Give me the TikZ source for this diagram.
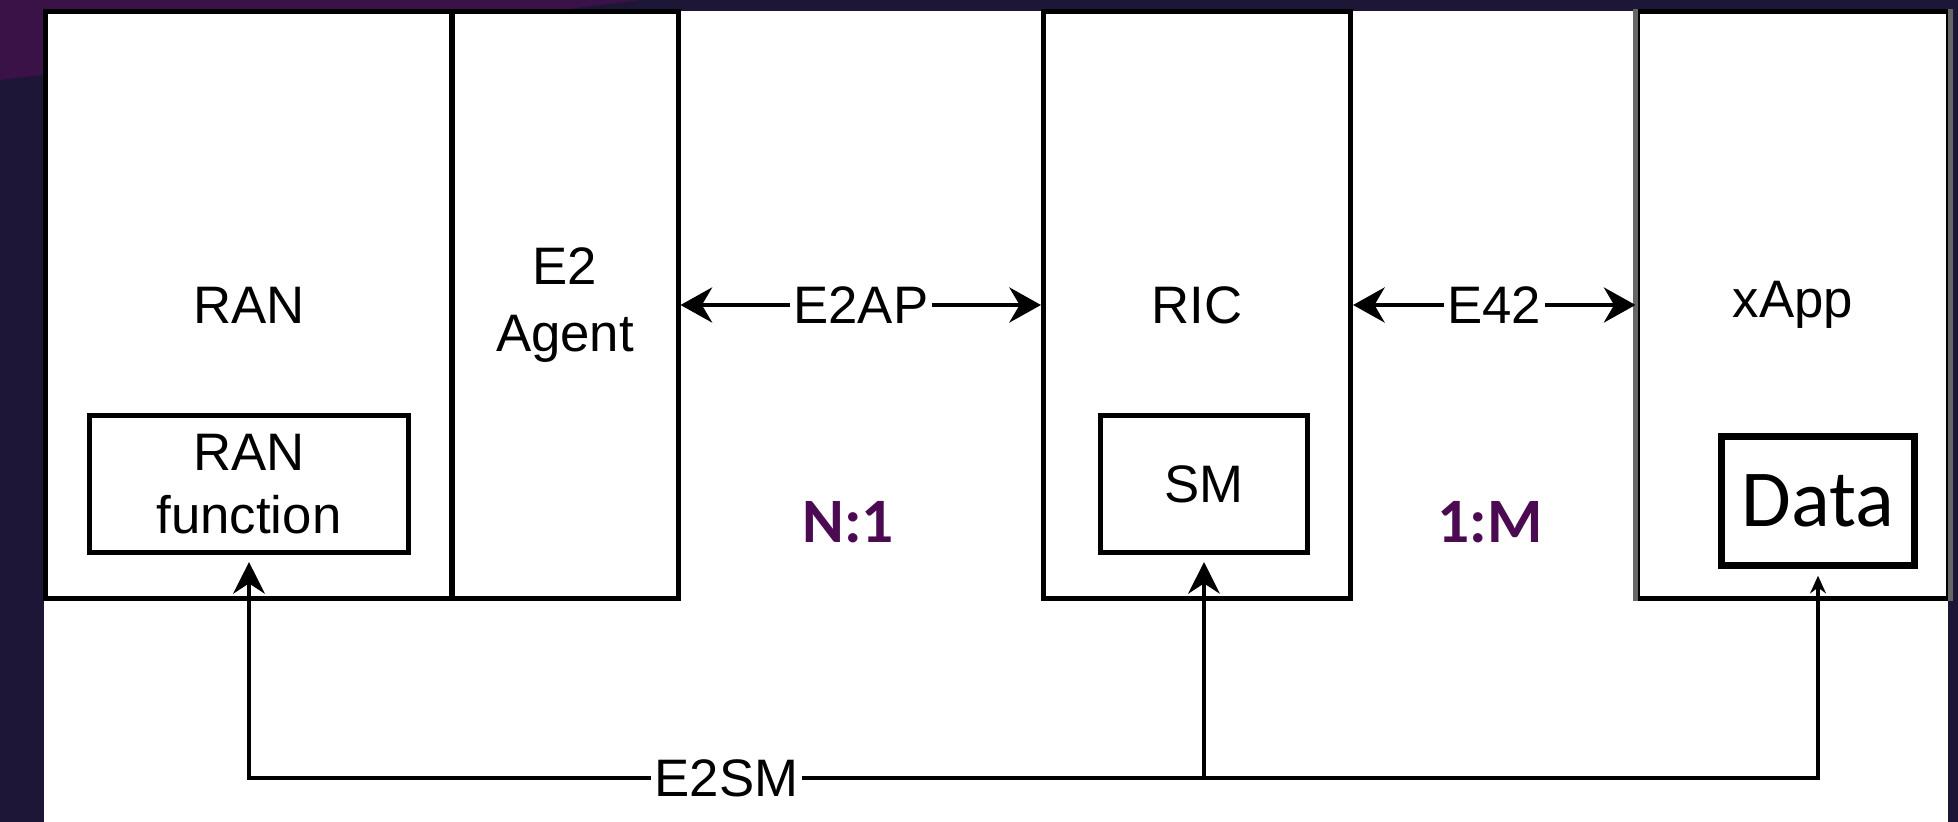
\documentclass[tikz,border=0pt]{standalone}
\usepackage{fontspec}
\setmainfont{Liberation Sans}
\newfontfamily\calfont{Carlito}
\usetikzlibrary{arrows.meta,positioning}

\definecolor{bgnavy}{RGB}{30,22,54}
\definecolor{bgpurple}{RGB}{58,18,72}
\definecolor{ratiopurple}{RGB}{75,10,82}

\begin{document}
\begin{tikzpicture}
[
	x=0.01cm, y=-0.01cm,
	unit/.style={draw,line width=1.4pt,minimum height=5.86cm,align=center,font=\fontsize{15}{19}\selectfont},
	part/.style={draw,line width=1.4pt,minimum height=1.37cm,align=center,font=\fontsize{15}{18}\selectfont},
	link/.style={line width=1pt,{Stealth[length=9pt,width=10pt]}-{Stealth[length=9pt,width=10pt]}},
	feed/.style={line width=1pt,-{Stealth[length=9pt,width=9pt]},shorten >=2pt},
	feedsmall/.style={line width=1pt,-{Stealth[length=5pt,width=4.5pt]},shorten >=2pt},
	lbl/.style={fill=white,inner sep=1pt,font=\fontsize{15}{18}\selectfont},
	ratiotext/.style={ratiopurple,font=\calfont\bfseries\fontsize{18}{20}\selectfont}
]
	\useasboundingbox (0,0) rectangle (1958,822);

	% background
	\fill[bgnavy] (0,0) rectangle (1958,822);
	\fill[bgpurple] (0,0) -- (640,0) -- (0,80) -- cycle;
	\fill[white] (44,11) rectangle (1948,822);

	% blocks
	\node[unit,minimum width=4.06cm] (ran) at (249,305) {RAN};
	\node[unit,minimum width=2.26cm] (agent) at (565,305) {E2\\Agent};
	\node[unit,minimum width=3.07cm] (ric) at (1197,305) {RIC};
	\node[unit,minimum width=3.10cm] (xapp) at (1793,305) {xApp};
	\draw[black!60,line width=1.4pt] (xapp.north west) -- (xapp.south west);
	\draw[black!60,line width=1.4pt] (xapp.north east) -- (xapp.south east);

	% inner parts
	\node[part,minimum width=3.18cm] (ranfn) at (249,484) {RAN\\function};
	\node[part,minimum width=2.06cm] (sm) at (1204,484) {SM};
	\node[draw,line width=1.8pt,minimum width=1.93cm,minimum height=1.29cm,font=\calfont\fontsize{23}{26}\selectfont] (data) at (1818,501) {Data};

	% ratios
	\node[ratiotext] (nto1) at (848,522) {N:1};
	\node[ratiotext] (oneto) at (1490,522) {1:M};

	% interfaces
	\draw[link] (agent.east) -- node[lbl] {E2AP} (ric.west);
	\draw[link] (ric.east) -- node[lbl] {E42} (xapp.west);

	% service model
	\coordinate (bus) at (sm.south |- 0,778);
	\draw[feed] (bus) -| node[lbl,pos=0.25] {E2SM} (ranfn.south);
	\draw[feed] (bus) -- (sm.south);
	\draw[feedsmall] (bus) -| (data.south);

\end{tikzpicture}
\end{document}
